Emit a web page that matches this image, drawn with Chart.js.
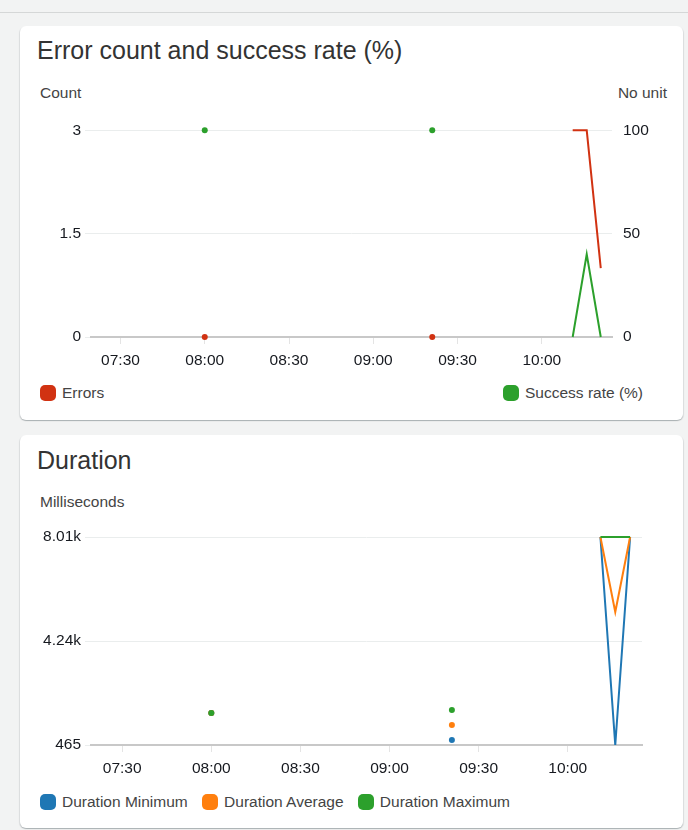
<!DOCTYPE html>
<html>
<head>
  <title>Error count and success rate / Duration</title>
  <style>
    body {
      margin: 0;
      width: 688px;
      height: 830px;
      overflow: hidden;
      background-color: #f2f3f3;
      font-family: "Liberation Sans", Arial, sans-serif;
      position: relative;
    }
    #top-strip {
      position: absolute;
      left: 0; top: 0;
      width: 688px; height: 12px;
      border-bottom: 1px solid #d5d7d7;
    }
    .card {
      position: absolute;
      left: 20px;
      width: 663px;
      background: #fff;
      border-radius: 6px;
      box-shadow: 0 1px 1px 0 rgba(0, 28, 36, 0.18), 1px 1px 1px 0 rgba(0, 28, 36, 0.08), -1px 1px 1px 0 rgba(0, 28, 36, 0.08);
    }
    .title {
      position: absolute;
      left: 37px;
      font-size: 25px;
      line-height: 25px;
      color: #333;
      white-space: nowrap;
    }
    .unit {
      position: absolute;
      font-size: 15.5px;
      line-height: 15.5px;
      color: #444;
      white-space: nowrap;
    }
    .legend {
      position: absolute;
      font-size: 15.5px;
      line-height: 16px;
      color: #444;
      white-space: nowrap;
    }
    .legend span.sw {
      display: inline-block;
      width: 16px; height: 16px;
      border-radius: 5px;
      vertical-align: top;
      margin-right: 6px;
    }
    canvas {
      position: absolute;
    }
  </style>
</head>
<body>
  <div id="top-strip"></div>
  <div class="card" style="top:26px;height:394px;"></div>
  <div class="card" style="top:435px;height:393px;"></div>

  <div class="title" style="top:38px;">Error count and success rate (%)</div>
  <div class="unit" style="left:40px;top:85px;">Count</div>
  <div class="unit" style="right:21px;top:85px;">No unit</div>
  <canvas id="chart-errors" width="664" height="260" style="left:20px;top:110px;"></canvas>
  <div class="legend" style="left:40px;top:385px;"><span class="sw" style="background:#d13212"></span>Errors</div>
  <div class="legend" style="left:503px;top:385px;"><span class="sw" style="background:#2ca02c"></span>Success rate (%)</div>

  <div class="title" style="top:448px;">Duration</div>
  <div class="unit" style="left:40px;top:494px;">Milliseconds</div>
  <canvas id="chart-duration" width="664" height="260" style="left:20px;top:519px;"></canvas>
  <div class="legend" style="left:40px;top:794px;">
    <span class="sw" style="background:#1f77b4"></span>Duration Minimum
    <span class="sw" style="background:#ff7f0e;margin-left:10px"></span>Duration Average
    <span class="sw" style="background:#2ca02c;margin-left:10px"></span>Duration Maximum
  </div>

  <script src="https://cdn.jsdelivr.net/npm/chart.js"></script>
  <script>
    // data
    const times = ["08:00", "09:21", "10:11", "10:16", "10:21"];
    const errors = [0, 0, 3, 3, 1];
    const successRate = [100, 100, 0, 40, 0];
    const durationMin = [1626, 646, 8010, 465, 8010];
    const durationAvg = [1626, 1190, 8010, 5289, 8010];
    const durationMax = [1626, 1734, 8010, 8010, 8010];

    const xTickLabels = ["07:30", "08:00", "08:30", "09:00", "09:30", "10:00"];
    const countTicks = [0, 1.5, 3];
    const rateTicks = [0, 50, 100];
    const durationTicks = [465, 4237.5, 8010];

    const xMin = 439.5; // 07:19:30
    const xMax = 625;   // 10:25
    const maxGap = 10;  // minutes, wider gaps are not joined

    function toMinutes(t) {
      const p = t.split(":");
      return +p[0] * 60 + +p[1];
    }
    function fmtTime(v) {
      const h = Math.floor(v / 60), m = Math.round(v % 60);
      return String(h).padStart(2, "0") + ":" + String(m).padStart(2, "0");
    }
    function series(values) {
      return values.map((v, i) => ({ x: toMinutes(times[i]), y: v }));
    }
    // show a dot only where a point has no neighbour to connect to
    function isolatedRadius(ctx) {
      const data = ctx.dataset.data;
      const i = ctx.dataIndex;
      const prev = data[i - 1], next = data[i + 1];
      const joinedPrev = prev && data[i].x - prev.x <= maxGap;
      const joinedNext = next && next.x - data[i].x <= maxGap;
      return joinedPrev || joinedNext ? 0 : 3;
    }
    function fixTicks(list) {
      return function (scale) {
        scale.ticks = list.map(v => ({ value: v }));
      };
    }

    const tickFont = { family: "'Liberation Sans', Arial, sans-serif", size: 15.5 };
    const tickColor = "#16191f";
    const gridColor = "#eaeded";
    const axisColor = "#c8c8c8";

    function lineSet(label, values, color, extra) {
      return Object.assign({
        label: label,
        data: series(values),
        borderColor: color,
        backgroundColor: color,
        borderWidth: 2,
        tension: 0,
        clip: false,
        spanGaps: maxGap,
        pointRadius: isolatedRadius,
        pointBorderWidth: 0,
        pointHoverRadius: 0
      }, extra || {});
    }

    function makeXScale(axisHeight) {
      return {
        type: "linear",
        min: xMin,
        max: xMax,
        afterBuildTicks: fixTicks(xTickLabels.map(toMinutes)),
        afterFit: function (scale) { scale.height = axisHeight; },
        border: { display: true, color: axisColor, width: 2 },
        grid: { drawOnChartArea: false, drawTicks: true, tickLength: 7, color: "#e4e4e4" },
        ticks: {
          autoSkip: false,
          maxRotation: 0,
          padding: 7,
          color: tickColor,
          font: tickFont,
          callback: v => fmtTime(v)
        }
      };
    }

    const commonOptions = {
      responsive: false,
      animation: false,
      devicePixelRatio: 1,
      events: [],
      plugins: { legend: { display: false }, tooltip: { enabled: false } }
    };

    // Error count and success rate
    new Chart(document.getElementById("chart-errors"), {
      type: "line",
      data: {
        datasets: [
          lineSet("Errors", errors, "#d13212", { yAxisID: "yCount" }),
          lineSet("Success rate (%)", successRate, "#2ca02c", { yAxisID: "yRate" })
        ]
      },
      options: Object.assign({}, commonOptions, {
        layout: { padding: { top: 16, left: 0, right: 0, bottom: 0 } },
        scales: {
          x: makeXScale(33),
          yCount: {
            position: "left",
            min: 0,
            max: 3,
            afterBuildTicks: fixTicks(countTicks),
            afterFit: function (scale) { scale.width = 71; },
            border: { display: false },
            grid: { color: gridColor, tickLength: 6 },
            ticks: { padding: 4, color: tickColor, font: tickFont }
          },
          yRate: {
            position: "right",
            min: 0,
            max: 100,
            afterBuildTicks: fixTicks(rateTicks),
            afterFit: function (scale) { scale.width = 72; },
            border: { display: false },
            grid: { drawOnChartArea: false, drawTicks: false },
            ticks: { padding: 11, color: tickColor, font: tickFont }
          }
        }
      })
    });

    // Duration
    new Chart(document.getElementById("chart-duration"), {
      type: "line",
      data: {
        datasets: [
          lineSet("Duration Minimum", durationMin, "#1f77b4", { order: 2 }),
          lineSet("Duration Average", durationAvg, "#ff7f0e", { order: 1 }),
          lineSet("Duration Maximum", durationMax, "#2ca02c", { order: 0 })
        ]
      },
      options: Object.assign({}, commonOptions, {
        layout: { padding: { top: 18, left: 0, right: 42, bottom: 0 } },
        scales: {
          x: makeXScale(34),
          y: {
            position: "left",
            min: durationTicks[0],
            max: durationTicks[2],
            afterBuildTicks: fixTicks(durationTicks),
            afterFit: function (scale) { scale.width = 71; },
            border: { display: false },
            grid: { color: gridColor, tickLength: 6 },
            ticks: {
              padding: 4,
              color: tickColor,
              font: tickFont,
              callback: v => v >= 1000 ? (Math.round(v / 10) / 100).toFixed(2) + "k" : v
            }
          }
        }
      })
    });
  </script>
</body>
</html>
